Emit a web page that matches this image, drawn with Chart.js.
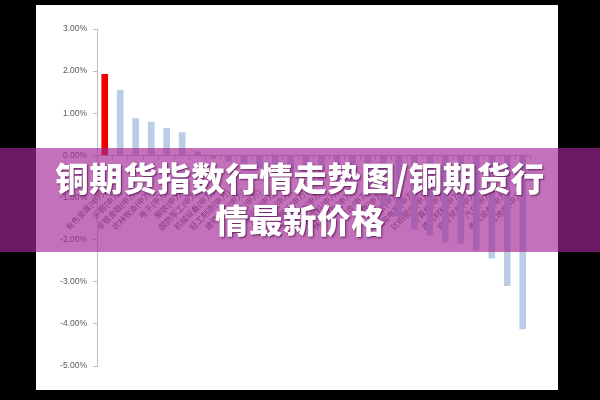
<!DOCTYPE html>
<html lang="zh-CN">
<head>
<meta charset="utf-8">
<title>铜期货指数行情走势图</title>
<script src="https://cdn.jsdelivr.net/npm/chart.js@4.4.1/dist/chart.umd.min.js"></script>
<style>
    html, body {
        margin: 0;
        padding: 0;
        width: 600px;
        height: 400px;
        overflow: hidden;
        background: #000;
    }
    #card {
        position: absolute;
        left: 36px;
        top: 5px;
        width: 522px;
        height: 385px;
        background: #fff;
    }
    #banner {
        position: absolute;
        left: 0;
        top: 148px;
        width: 600px;
        height: 104px;
        box-sizing: border-box;
        padding-top: 8px;
        background: rgba(162, 39, 150, 0.66);
        color: #fff;
        text-align: center;
        font-family: "Noto Sans CJK SC", sans-serif;
        font-weight: 900;
        font-size: 33.5px;
        line-height: 42px;
        letter-spacing: 0.5px;
        text-shadow: 1px 1px 2px rgba(70, 0, 60, 0.75);
    }
</style>
</head>
<body>
<div id="card"><canvas id="industryChart" width="522" height="385"></canvas></div>
<div id="banner">铜期货指数行情走势图/铜期货行<br>情最新价格</div>
<script>
// Daily change by Shenwan industry, in percent
const categories = [
    '有色金属(申万)', '采掘(申万)', '非银金融(申万)', '农林牧渔(申万)', '电子(申万)',
    '钢铁(申万)', '国防军工(申万)', '机械设备(申万)', '轻工制造(申万)', '建筑装饰(申万)',
    '化工(申万)', '交通运输(申万)', '公用事业(申万)', '银行(申万)', '医药生物(申万)',
    '食品饮料(申万)', '休闲服务(申万)', '综合(申万)', '传媒(申万)', '通信(申万)',
    '家用电器(申万)', '纺织服装(申万)', '计算机(申万)', '建筑材料(申万)', '商业贸易(申万)',
    '汽车(申万)', '电气设备(申万)', '房地产(申万)'
];
const changeValues = [
    1.93, 1.55, 0.88, 0.80, 0.65,
    0.55, 0.10, -0.08, -0.15, -0.22,
    -0.30, -0.38, -0.45, -0.52, -0.60,
    -0.70, -0.82, -0.98, -1.20, -1.45,
    -1.76, -1.90, -2.06, -2.10, -2.26,
    -2.45, -3.10, -4.13
];
const yTickValues = [3, 2, 1, 0, -1, -2, -3, -4, -5];
const highlightCategory = '有色金属(申万)';

const axisGray = '#bfbfbf';
const labelGray = '#595959';

const ctx = document.getElementById('industryChart').getContext('2d');

new Chart(ctx, {
    type: 'bar',
    data: {
        labels: categories,
        datasets: [{
            data: changeValues,
            backgroundColor: (c) => categories[c.dataIndex] === highlightCategory ? '#f20000' : '#b9cde5',
            barPercentage: 0.43,
            categoryPercentage: 1
        }]
    },
    options: {
        responsive: false,
        animation: false,
        layout: {
            padding: { top: 24, bottom: 24, left: 0, right: 26 }
        },
        plugins: {
            legend: { display: false },
            tooltip: { enabled: false }
        },
        scales: {
            x: {
                // category axis crosses at zero, labels hang below it
                position: { y: 0 },
                grid: {
                    offset: true,
                    drawOnChartArea: false,
                    tickLength: 4,
                    color: axisGray
                },
                border: { color: axisGray },
                ticks: {
                    autoSkip: false,
                    minRotation: 45,
                    maxRotation: 45,
                    padding: 28,
                    color: labelGray,
                    font: { family: '"Noto Sans CJK SC", sans-serif', size: 8 }
                }
            },
            y: {
                min: yTickValues[yTickValues.length - 1],
                max: yTickValues[0],
                afterBuildTicks: (scale) => {
                    scale.ticks = yTickValues.map(v => ({ value: v }));
                },
                afterFit: (scale) => {
                    scale.width = 61;
                },
                grid: {
                    drawOnChartArea: false,
                    tickLength: 4,
                    color: axisGray
                },
                border: { color: axisGray },
                ticks: {
                    padding: 6,
                    color: labelGray,
                    font: { family: '"Liberation Sans", sans-serif', size: 8.5 },
                    callback: (v) => Number(v).toFixed(2) + '%'
                }
            }
        }
    }
});
</script>
</body>
</html>
